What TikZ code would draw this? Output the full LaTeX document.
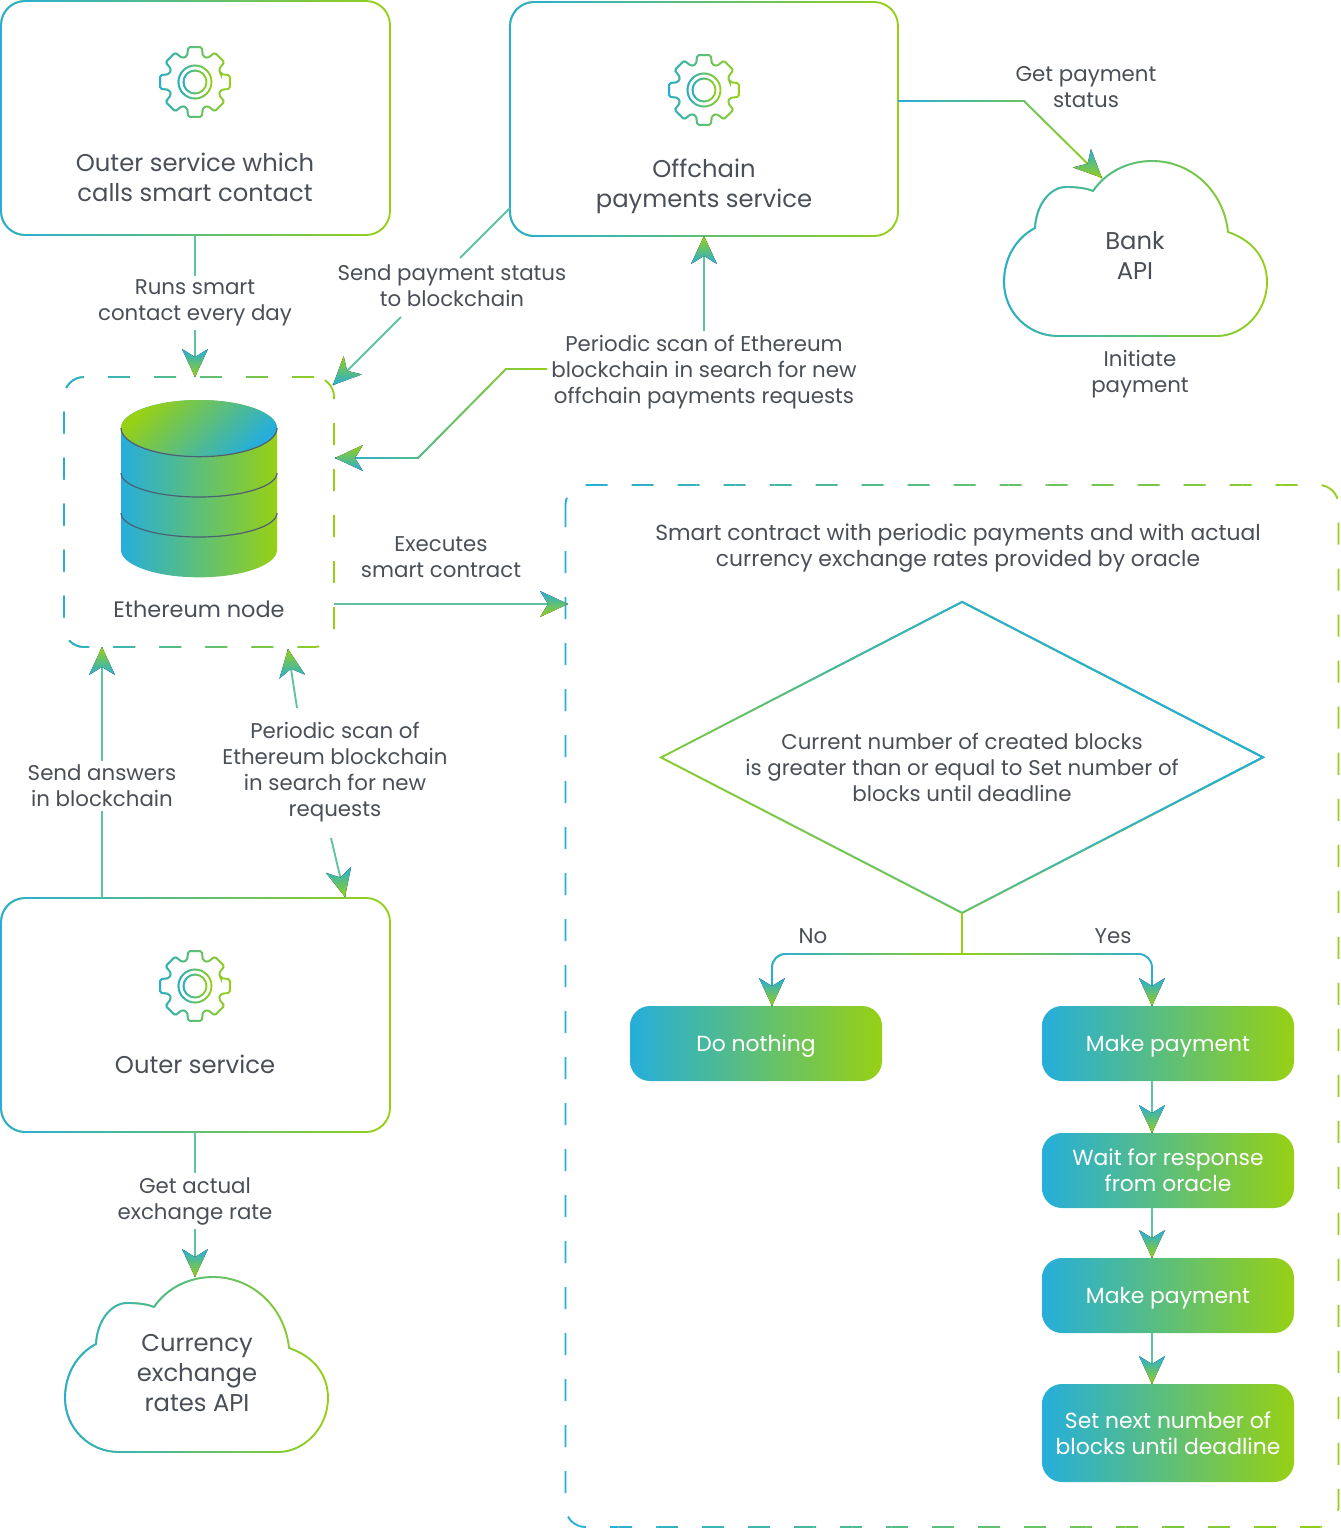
\documentclass[tikz,border=0pt]{standalone}
\usepackage{fontspec}
\setmainfont{Poppins}
\usetikzlibrary{fadings,decorations.markings,shapes.geometric}
\def\px{0.75pt}
\definecolor{gradblue}{HTML}{25AEDB}
\definecolor{gradgreen}{HTML}{97D014}
\definecolor{midteal}{HTML}{5FC3A0}
\definecolor{txtgrey}{HTML}{4A4F57}
\definecolor{rimgrey}{HTML}{4D5F73}
\tikzset{
  wh/.style 2 args={minimum width=#1*\px,minimum height=#2*\px},
  gradline/.style={draw=gradgreen,line width=1.4pt,postaction={draw=gradblue,path fading=east}},
  gradliner/.style={draw=gradblue,line width=1.4pt,postaction={draw=gradgreen,path fading=east}},
  svcbox/.style={gradline,rounded corners=18pt,inner sep=0pt,outer sep=0pt},
  dashline/.style={line width=1.4pt,dash pattern=on 16.5pt off 18pt,rounded corners=15pt},
  dashbox/.style={dashline,draw=gradgreen,inner sep=0pt,outer sep=0pt,
    postaction={draw=gradblue,path fading=east}},
  stepbox/.style={left color=gradblue,right color=gradgreen,rounded corners=15pt,inner sep=0pt,outer sep=0pt,
    align=center,text=white,font=\fontsize{16.4}{19.5}\selectfont},
  oneline/.style={text depth=0pt},
  lbl/.style={align=center,text=txtgrey,inner sep=3pt,font=\fontsize{16}{19.5}\selectfont},
  biglbl/.style={align=center,text=txtgrey,inner sep=3pt,font=\fontsize{18.2}{22.5}\selectfont},
  plainline/.style={draw=midteal,line width=1.4pt},
  arrowtip/.style 2 args={postaction={decorate,decoration={markings,mark=at position 1 with {
    \fill[sharp corners,top color=#1,bottom color=#2] (0,0) -- (-28,13) -- (-20,0) -- (-28,-13) -- cycle;}}}},
  flow/.style={plainline,arrowtip={gradblue}{gradgreen}},
  flowr/.style={plainline,arrowtip={gradgreen}{gradblue}},
  gear/.pic={
    \path[gradline] (-17:27)
      \foreach \a in {0,45,...,315} {
        [rounded corners=1.2pt] -- (\a-17:27) -- (\a-11:35.5) -- (\a+11:35.5) -- (\a+17:27)
      } -- cycle;
    \path[gradline] (0,0) circle (16.5);
    \path[gradline] (0,0) circle (11.5);
  },
  cloud/.pic={
    \path[gradline] (-77,88) .. controls (-107,88) and (-131,64) .. (-131,34)
      .. controls (-131,10) and (-119,-10) .. (-100,-20)
      .. controls (-99,-43) and (-85,-61) .. (-69,-61)
      .. controls (-59,-61) and (-49,-60) .. (-42,-57)
      .. controls (-29,-76) and (-7,-87) .. (17,-87)
      .. controls (57,-87) and (89,-56) .. (93,-16)
      .. controls (117,-8) and (132,10) .. (132,34)
      .. controls (132,64) and (108,88) .. (82,88) -- cycle;
  }
}
\begin{document}
\begin{tikzpicture}[x=\px,y=-\px]
  \useasboundingbox (0,0) rectangle (1340,1528);
  % service boxes
  \node[svcbox,wh={389}{234}] (outercall) at (195.5,118) {};
  \node[svcbox,wh={388}{234}] (offchain) at (704,119) {};
  \node[svcbox,wh={389}{234}] (outer) at (195.5,1015) {};
  \pic at (195,82) {gear};
  \pic at (704,90) {gear};
  \pic at (195,986) {gear};
  \node[biglbl] (outercalltxt) at (195,177) {Outer service which\\calls smart contact};
  \node[biglbl] (offchaintxt) at (704,186) {Offchain\\payments service};
  \node[biglbl] (outertxt) at (195,1064) {Outer service};
  % clouds
  \pic at (1135,248) {cloud};
  \pic at (196,1364) {cloud};
  \node[biglbl] (bank) at (1135,256) {Bank\\API};
  \node[biglbl] (rates) at (197,1373) {Currency\\exchange\\rates API};
  % ethereum node
  \node[dashbox,wh={270}{270}] (eth) at (199,512) {};
  \shade[left color=gradblue,right color=gradgreen] (121,428) -- (121,550)
    arc[start angle=180,end angle=360,x radius=58.5pt,y radius=20.5pt] -- (277,428)
    arc[start angle=0,end angle=180,x radius=58.5pt,y radius=21pt] -- cycle;
  \shade[left color=gradgreen,right color=gradblue,shading angle=45] (199,428) ellipse [x radius=58.5pt,y radius=21pt];
  \draw[rimgrey,line width=0.9pt] (121,428) arc[start angle=180,end angle=360,x radius=58.5pt,y radius=21.5pt];
  \draw[rimgrey,line width=0.9pt] (121,473) arc[start angle=180,end angle=360,x radius=58.5pt,y radius=18pt];
  \draw[rimgrey,line width=0.9pt] (121,513) arc[start angle=180,end angle=360,x radius=58.5pt,y radius=18pt];
  \node[lbl,font=\fontsize{16.8}{19.5}\selectfont] (ethtxt) at (199,609) {Ethereum node};
  % smart contract area
  \node[inner sep=0pt,outer sep=0pt,wh={773}{1042}] (contract) at (952,1006) {};
  \foreach \s in {0,...,39} {
    \begin{scope}
      \clip (560+\s*19.5,480) rectangle (560+\s*19.5+19.6,1528);
      \colorlet{stripc}{gradgreen!\fpeval{\s*2.5}!gradblue}
      \draw[dashline,stripc] (contract.north west) rectangle (contract.south east);
    \end{scope}
  }
  \node[lbl,font=\fontsize{16.4}{19.5}\selectfont] (contracttxt) at (958,548) {Smart contract with periodic payments and with actual\\currency exchange rates provided by oracle};
  \node[diamond,wh={602}{311},inner sep=0pt,outer sep=0pt,draw=gradgreen,line width=1.4pt,
    postaction={draw=gradblue,path fading=east,fading angle=210},
    postaction={draw=gradblue,path fading=east,fading angle=210}] (check) at (962,757.5) {};
  \node[lbl] (checktxt) at (962,767) {Current number of created blocks\\is greater than or equal to Set number of\\blocks until deadline};
  \node[stepbox,oneline,wh={252}{75}] (nothing) at (756,1043.5) {Do nothing};
  \node[stepbox,oneline,wh={252}{75}] (pay) at (1168,1043.5) {Make payment};
  \node[stepbox,wh={252}{75}] (wait) at (1168,1170.5) {Wait for response\\from oracle};
  \node[stepbox,oneline,wh={252}{75}] (payb) at (1168,1295.5) {Make payment};
  \node[stepbox,wh={252}{98}] (next) at (1168,1433) {Set next number of\\blocks until deadline};
  % labels
  \node[lbl] (runs) at (195,303) {Runs smart\\contact every day};
  \node[lbl] (sendstatus) at (452,286) {Send payment status\\to blockchain};
  \node[lbl] (scanoff) at (704,372) {Periodic scan of Ethereum\\blockchain in search for new\\offchain payments requests};
  \node[lbl] (getstatus) at (1086,87) {Get payment\\status};
  \node[lbl] (initiate) at (1140,374) {Initiate\\payment};
  \node[lbl] (executes) at (441,557) {Executes\\smart contract};
  \node[lbl] (answers) at (102,786) {Send answers\\in blockchain};
  \node[lbl] (scanreq) at (335,772) {Periodic scan of\\Ethereum blockchain\\in search for new\\requests};
  \node[lbl] (getrate) at (195,1201) {Get actual\\exchange rate};
  \node[lbl] (no) at (813,936) {No};
  \node[lbl] (yes) at (1113,936) {Yes};
  % free ends
  \coordinate (offout) at (510,208);
  \coordinate (sendin) at (460,258);
  \coordinate (sendout) at (401,317);
  \coordinate (ethcorner) at (333,385);
  \coordinate (scanout) at (540,369);
  \coordinate (scanin) at (335,458);
  \coordinate (statusin) at (1102,178);
  \coordinate (execin) at (568,604);
  \coordinate (execout) at (334,604);
  \coordinate (reqtop) at (297,708);
  \coordinate (reqeth) at (288,649);
  \coordinate (reqbot) at (331,838);
  \coordinate (reqout) at (345,897);
  \coordinate (ratein) at (195,1277);
  \coordinate (fork) at (962,954);
  \coordinate (forkno) at (772,1006);
  \coordinate (forkyes) at (1152,1006);
  \coordinate (downx) at (1152,0);
  % connectors
  \draw[plainline] (runs.north |- outercall.south) -- (runs.north);
  \draw[flow] (runs.south) -- (runs.south |- eth.north);
  \draw[plainline] (offout) -- (sendin);
  \draw[flowr] (sendout) -- (ethcorner);
  \draw[flowr] (scanoff.north) -- (scanoff.north |- offchain.south);
  \path[gradline,arrowtip={gradgreen}{gradblue}] (scanoff.west |- scanout) -- (506,369) -- (418,458) -- (scanin);
  \path[gradline,arrowtip={gradblue}{gradgreen}] (offchain.east |- 0,101) -- (1024,101) -- (statusin);
  \draw[flow] (execout) -- (execin);
  \draw[plainline] (answers.south |- outer.north) -- (answers.south);
  \draw[flowr] (answers.north) -- (answers.north |- eth.south);
  \draw[flowr] (reqtop) -- (reqeth);
  \draw[flow] (reqbot) -- (reqout);
  \draw[plainline] (getrate.north |- outer.south) -- (getrate.north);
  \draw[flow] (getrate.south) -- (ratein);
  \draw[draw=gradgreen,line width=1.4pt] (check.south) -- (fork);
  \path[gradline,rounded corners=10pt,arrowtip={gradblue}{gradgreen}] (fork) -| (forkno);
  \path[gradliner,rounded corners=10pt,arrowtip={gradblue}{gradgreen}] (fork) -| (forkyes);
  \draw[flow] (pay.south -| downx) -- (wait.north -| downx);
  \draw[flow] (wait.south -| downx) -- (payb.north -| downx);
  \draw[flow] (payb.south -| downx) -- (next.north -| downx);
\end{tikzpicture}
\end{document}
